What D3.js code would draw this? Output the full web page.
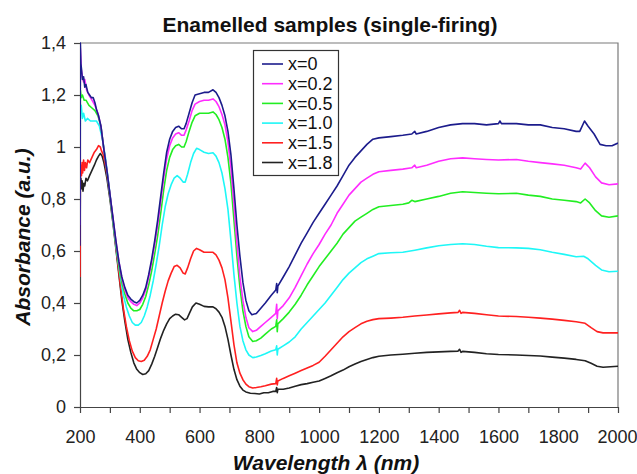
<!DOCTYPE html>
<html>
<head>
<meta charset="utf-8">
<script src="https://cdn.jsdelivr.net/npm/d3@7"></script>
<style>
  html, body { margin: 0; padding: 0; background: #fff; }
  svg { display: block; font-family: "Liberation Sans", Arial, sans-serif; }
</style>
</head>
<body>
<div id="chart"></div>
<script>
// series: [wavelength nm, absorbance]
var s_x00 = [[200,0.62],[201,1.40],[203,1.32],[205,1.30],[208,1.26],[212,1.27],[216,1.23],[220,1.24],[226,1.21],[232,1.20],[238,1.19],[244,1.19],[250,1.17],[256,1.14],[262,1.12],[270,1.08],[280,0.99],[290,0.91],[300,0.82],[310,0.73],[320,0.64],[330,0.56],[340,0.50],[350,0.46],[360,0.43],[370,0.415],[380,0.405],[390,0.40],[400,0.41],[410,0.43],[420,0.46],[430,0.51],[440,0.57],[450,0.64],[460,0.72],[470,0.81],[480,0.90],[490,0.98],[500,1.03],[510,1.06],[520,1.075],[530,1.08],[540,1.07],[548,1.07],[555,1.09],[565,1.13],[575,1.17],[585,1.20],[600,1.205],[615,1.21],[630,1.21],[645,1.22],[655,1.21],[665,1.19],[675,1.16],[685,1.12],[695,1.06],[705,0.97],[715,0.84],[725,0.70],[735,0.58],[745,0.48],[755,0.41],[765,0.37],[775,0.355],[790,0.36],[805,0.38],[820,0.40],[840,0.43],[855,0.45],[858,0.475],[860,0.44],[862,0.465],[880,0.50],[900,0.54],[920,0.585],[940,0.63],[960,0.67],[980,0.71],[1000,0.745],[1020,0.78],[1040,0.815],[1060,0.85],[1080,0.89],[1100,0.93],[1120,0.96],[1140,0.985],[1160,1.01],[1180,1.03],[1200,1.035],[1240,1.04],[1280,1.045],[1310,1.05],[1320,1.06],[1325,1.05],[1360,1.06],[1400,1.075],[1440,1.085],[1480,1.09],[1520,1.09],[1560,1.085],[1600,1.09],[1605,1.10],[1610,1.09],[1660,1.09],[1700,1.085],[1740,1.085],[1780,1.075],[1820,1.07],[1860,1.06],[1872,1.06],[1888,1.10],[1900,1.08],[1920,1.05],[1940,1.01],[1960,1.005],[1980,1.005],[2000,1.015]];

var s_x02 = [[200,0.70],[201,1.38],[204,1.30],[208,1.27],[212,1.25],[216,1.26],[222,1.22],[230,1.20],[240,1.18],[250,1.16],[260,1.13],[270,1.08],[280,0.99],[290,0.91],[300,0.82],[310,0.73],[320,0.64],[330,0.56],[340,0.495],[350,0.45],[360,0.42],[370,0.405],[380,0.395],[390,0.39],[400,0.40],[410,0.42],[420,0.45],[430,0.50],[440,0.56],[450,0.625],[460,0.70],[470,0.79],[480,0.88],[490,0.955],[500,1.005],[510,1.035],[520,1.05],[530,1.055],[540,1.045],[548,1.045],[555,1.065],[565,1.10],[575,1.14],[585,1.165],[600,1.175],[615,1.18],[630,1.18],[645,1.185],[655,1.175],[665,1.155],[675,1.125],[685,1.085],[695,1.02],[705,0.92],[715,0.78],[725,0.63],[735,0.50],[745,0.41],[755,0.345],[765,0.305],[778,0.29],[790,0.295],[805,0.31],[820,0.325],[840,0.345],[855,0.36],[858,0.395],[860,0.34],[862,0.37],[880,0.39],[900,0.42],[920,0.46],[940,0.505],[960,0.55],[980,0.59],[1000,0.625],[1020,0.665],[1040,0.70],[1060,0.745],[1080,0.78],[1100,0.815],[1120,0.84],[1140,0.865],[1160,0.88],[1180,0.895],[1200,0.905],[1240,0.91],[1280,0.915],[1310,0.92],[1320,0.93],[1325,0.92],[1360,0.93],[1400,0.945],[1440,0.955],[1480,0.958],[1520,0.955],[1560,0.952],[1600,0.95],[1660,0.952],[1700,0.945],[1740,0.94],[1780,0.935],[1820,0.93],[1860,0.92],[1875,0.915],[1890,0.938],[1905,0.92],[1925,0.885],[1945,0.862],[1970,0.855],[2000,0.858]];

var s_x05 = [[200,0.72],[201,1.22],[204,1.19],[208,1.20],[214,1.18],[220,1.18],[230,1.16],[240,1.15],[250,1.14],[260,1.12],[270,1.08],[280,0.99],[290,0.905],[300,0.815],[310,0.72],[320,0.63],[330,0.545],[340,0.48],[350,0.435],[360,0.40],[370,0.38],[380,0.37],[390,0.37],[400,0.375],[410,0.395],[420,0.425],[430,0.47],[440,0.525],[450,0.59],[460,0.66],[470,0.745],[480,0.835],[490,0.91],[500,0.96],[510,0.99],[520,1.005],[530,1.01],[540,1.0],[548,1.0],[555,1.02],[565,1.06],[575,1.095],[585,1.12],[600,1.13],[615,1.13],[630,1.13],[645,1.135],[655,1.125],[665,1.105],[675,1.075],[685,1.03],[695,0.96],[705,0.86],[715,0.72],[725,0.58],[735,0.46],[745,0.37],[755,0.31],[765,0.27],[778,0.252],[790,0.255],[805,0.265],[820,0.28],[840,0.30],[855,0.31],[858,0.335],[860,0.29],[862,0.32],[880,0.34],[900,0.365],[920,0.395],[940,0.43],[960,0.47],[980,0.505],[1000,0.54],[1020,0.57],[1040,0.60],[1060,0.63],[1080,0.665],[1100,0.69],[1120,0.715],[1140,0.73],[1160,0.745],[1180,0.76],[1200,0.77],[1240,0.775],[1280,0.78],[1300,0.785],[1310,0.795],[1320,0.79],[1360,0.80],[1400,0.81],[1440,0.822],[1480,0.828],[1520,0.825],[1560,0.822],[1600,0.82],[1660,0.822],[1700,0.815],[1740,0.81],[1780,0.80],[1820,0.795],[1860,0.79],[1875,0.785],[1890,0.80],[1905,0.785],[1925,0.755],[1945,0.735],[1970,0.73],[2000,0.735]];

var s_x10 = [[200,0.78],[201,1.13],[204,1.16],[208,1.11],[212,1.13],[218,1.10],[225,1.11],[235,1.10],[245,1.10],[255,1.10],[265,1.08],[275,1.03],[285,0.96],[295,0.87],[305,0.77],[315,0.67],[325,0.58],[335,0.50],[345,0.43],[355,0.385],[365,0.35],[375,0.325],[385,0.315],[395,0.315],[405,0.325],[415,0.35],[425,0.385],[435,0.43],[445,0.485],[455,0.55],[465,0.62],[475,0.70],[485,0.77],[495,0.82],[505,0.855],[515,0.88],[525,0.89],[535,0.88],[545,0.865],[552,0.865],[560,0.895],[570,0.94],[580,0.975],[590,0.995],[600,0.99],[615,0.98],[630,0.975],[645,0.978],[655,0.965],[665,0.94],[675,0.90],[685,0.84],[695,0.76],[705,0.64],[715,0.51],[725,0.40],[735,0.31],[745,0.255],[755,0.22],[765,0.20],[778,0.19],[790,0.192],[805,0.198],[820,0.205],[840,0.215],[855,0.22],[858,0.235],[860,0.20],[862,0.222],[880,0.235],[900,0.25],[920,0.27],[940,0.30],[960,0.325],[980,0.35],[1000,0.375],[1020,0.40],[1040,0.43],[1060,0.46],[1080,0.49],[1100,0.515],[1120,0.535],[1140,0.555],[1160,0.57],[1180,0.58],[1200,0.59],[1240,0.593],[1280,0.595],[1320,0.603],[1360,0.612],[1400,0.62],[1440,0.625],[1480,0.628],[1520,0.625],[1560,0.618],[1600,0.613],[1660,0.612],[1700,0.61],[1740,0.605],[1780,0.595],[1820,0.587],[1860,0.578],[1885,0.58],[1900,0.57],[1925,0.545],[1945,0.527],[1970,0.52],[2000,0.522]];

var s_x15 = [[200,0.50],[201,0.88],[203,0.93],[205,0.89],[207,0.94],[209,0.90],[212,0.95],[215,0.91],[218,0.94],[222,0.92],[226,0.95],[232,0.94],[240,0.96],[248,0.98],[255,0.99],[262,1.005],[268,1.0],[272,0.985],[278,0.97],[285,0.93],[295,0.86],[305,0.77],[315,0.67],[325,0.57],[335,0.47],[345,0.38],[355,0.31],[365,0.255],[375,0.215],[385,0.19],[395,0.178],[405,0.175],[415,0.18],[425,0.195],[435,0.22],[445,0.26],[455,0.30],[465,0.35],[475,0.40],[485,0.445],[495,0.485],[505,0.515],[515,0.54],[525,0.545],[535,0.535],[545,0.515],[552,0.512],[560,0.535],[570,0.57],[580,0.60],[590,0.61],[600,0.605],[615,0.595],[630,0.595],[645,0.595],[655,0.585],[665,0.565],[675,0.535],[685,0.49],[695,0.42],[705,0.33],[715,0.24],[725,0.17],[735,0.13],[745,0.105],[755,0.088],[765,0.078],[778,0.073],[790,0.075],[805,0.078],[820,0.082],[840,0.088],[855,0.09],[858,0.11],[860,0.085],[862,0.1],[880,0.11],[900,0.12],[920,0.13],[940,0.14],[960,0.15],[980,0.16],[1000,0.172],[1020,0.195],[1040,0.22],[1060,0.245],[1080,0.27],[1100,0.29],[1120,0.305],[1140,0.32],[1160,0.33],[1180,0.336],[1200,0.34],[1240,0.342],[1280,0.345],[1320,0.35],[1360,0.354],[1400,0.358],[1440,0.362],[1465,0.364],[1470,0.372],[1475,0.36],[1480,0.364],[1520,0.36],[1560,0.355],[1600,0.35],[1660,0.348],[1700,0.345],[1740,0.342],[1780,0.338],[1820,0.333],[1860,0.328],[1890,0.322],[1910,0.305],[1930,0.29],[1950,0.285],[2000,0.285]];

var s_x18 = [[200,0.50],[201,0.86],[203,0.88],[205,0.84],[207,0.87],[210,0.83],[213,0.86],[216,0.85],[220,0.88],[225,0.87],[232,0.89],[240,0.91],[248,0.93],[255,0.95],[262,0.965],[268,0.975],[274,0.965],[280,0.94],[290,0.88],[300,0.80],[310,0.71],[320,0.61],[330,0.51],[340,0.41],[350,0.33],[360,0.26],[370,0.21],[380,0.17],[390,0.145],[400,0.132],[410,0.125],[420,0.128],[430,0.14],[440,0.165],[450,0.195],[460,0.23],[470,0.265],[480,0.295],[490,0.32],[500,0.34],[510,0.35],[520,0.357],[530,0.355],[540,0.345],[550,0.335],[558,0.34],[566,0.36],[576,0.385],[588,0.40],[600,0.395],[615,0.387],[630,0.385],[645,0.385],[655,0.378],[665,0.365],[675,0.345],[685,0.31],[695,0.26],[705,0.20],[715,0.145],[725,0.105],[735,0.08],[745,0.065],[755,0.058],[770,0.053],[785,0.052],[800,0.05],[815,0.055],[830,0.055],[845,0.06],[855,0.06],[858,0.075],[860,0.055],[862,0.068],[880,0.068],[900,0.073],[920,0.08],[940,0.086],[960,0.09],[980,0.095],[1000,0.1],[1020,0.11],[1040,0.12],[1060,0.132],[1080,0.142],[1100,0.155],[1120,0.165],[1140,0.175],[1160,0.183],[1180,0.19],[1200,0.195],[1240,0.2],[1280,0.203],[1320,0.207],[1360,0.21],[1400,0.212],[1440,0.214],[1465,0.215],[1470,0.222],[1475,0.21],[1480,0.214],[1520,0.21],[1560,0.205],[1600,0.202],[1660,0.2],[1700,0.198],[1740,0.196],[1780,0.192],[1820,0.188],[1860,0.183],[1890,0.178],[1910,0.168],[1930,0.157],[1950,0.153],[1975,0.155],[2000,0.157]];

var seriesData = [s_x00, s_x02, s_x05, s_x10, s_x15, s_x18];
var seriesNames = ["x=0", "x=0.2", "x=0.5", "x=1.0", "x=1.5", "x=1.8"];
var seriesColors = ["#1c1c8c", "#ff2cff", "#22ee22", "#1ef7f7", "#ff2020", "#222222"];

var xTicks = [200, 400, 600, 800, 1000, 1200, 1400, 1600, 1800, 2000];
var xMinorTicks = [300, 500, 700, 900, 1100, 1300, 1500, 1700, 1900];
var yTicks = [0, 0.2, 0.4, 0.6, 0.8, 1.0, 1.2, 1.4];

var W = 637, H = 474;
var margin = { top: 43, right: 19, bottom: 67, left: 80 };

var svg = d3.select("#chart").append("svg")
    .attr("width", W)
    .attr("height", H);

svg.append("rect").attr("width", W).attr("height", H).attr("fill", "#fff");

var x = d3.scaleLinear().domain([200, 2000]).range([margin.left, W - margin.right]);
var y = d3.scaleLinear().domain([0, 1.4]).range([H - margin.bottom, margin.top]);

svg.append("defs").append("clipPath").attr("id", "plotclip")
    .append("rect")
    .attr("x", x(200)).attr("y", y(1.4) - 1)
    .attr("width", x(2000) - x(200)).attr("height", y(0) - y(1.4) + 1);

// frame top + right (gray)
svg.append("path")
    .attr("d", "M" + x(200) + "," + y(1.4) + "H" + x(2000) + "V" + y(0))
    .attr("fill", "none")
    .attr("stroke", "#7a7a7a")
    .attr("stroke-width", 1.2);

var fmtComma = function(d){ return String(+d.toFixed(1)).replace(".", ","); };

// x axis
var xAxis = svg.append("g")
    .attr("transform", "translate(0," + y(0) + ")")
    .call(d3.axisBottom(x).tickValues(xTicks).tickSizeInner(6).tickSizeOuter(0).tickPadding(17).tickFormat(d3.format("d")));
svg.append("g")
    .attr("transform", "translate(0," + y(0) + ")")
    .call(d3.axisBottom(x).tickValues(xMinorTicks).tickSize(6).tickFormat(""))
    .select(".domain").remove();

// y axis
var yAxis = svg.append("g")
    .attr("transform", "translate(" + x(200) + ",0)")
    .call(d3.axisLeft(y).tickValues(yTicks).tickSizeInner(6).tickSizeOuter(0).tickPadding(8).tickFormat(fmtComma));

svg.selectAll(".domain").attr("stroke", "#444").attr("stroke-width", 1.2);
svg.selectAll(".tick line").attr("stroke", "#444").attr("stroke-width", 1.2);
svg.selectAll(".tick text")
    .attr("fill", "#222")
    .style("font-size", "18px")
    .style("font-family", "'Liberation Sans', Arial, sans-serif");

// last label sits against the page edge
xAxis.selectAll(".tick text").filter(function(d){ return d === 2000; })
    .attr("text-anchor", "end")
    .attr("dx", "19");

// curves
var line = d3.line()
    .x(function(d){ return x(d[0]); })
    .y(function(d){ return y(d[1]); });

var plot = svg.append("g").attr("clip-path", "url(#plotclip)");
for (var i = seriesData.length - 1; i >= 0; i--) {
    plot.append("path")
        .datum(seriesData[i])
        .attr("d", line)
        .attr("fill", "none")
        .attr("stroke", seriesColors[i])
        .attr("stroke-width", 1.6)
        .attr("stroke-linejoin", "round");
}

// legend
var legend = svg.append("g");
legend.append("rect")
    .attr("x", 253.5).attr("y", 50.5)
    .attr("width", 85).attr("height", 125)
    .attr("fill", "#fff")
    .attr("stroke", "#333")
    .attr("stroke-width", 1.2);
seriesNames.forEach(function(name, i){
    var cy = 64 + i * 19.7;
    legend.append("line")
        .attr("x1", 262).attr("x2", 283)
        .attr("y1", cy).attr("y2", cy)
        .attr("stroke", seriesColors[i])
        .attr("stroke-width", 1.6);
    legend.append("text")
        .attr("x", 288).attr("y", cy)
        .attr("dy", "0.35em")
        .attr("fill", "#111")
        .style("font-size", "18px")
        .text(name);
});

// titles
svg.append("text")
    .attr("x", 330).attr("y", 32)
    .attr("text-anchor", "middle")
    .style("font-size", "21px")
    .style("font-weight", "bold")
    .attr("fill", "#111")
    .text("Enamelled samples (single-firing)");

svg.append("text")
    .attr("x", 326).attr("y", 470)
    .attr("text-anchor", "middle")
    .style("font-size", "21px")
    .style("font-weight", "bold")
    .style("font-style", "italic")
    .attr("fill", "#111")
    .text("Wavelength \u03bb (nm)");

svg.append("text")
    .attr("transform", "translate(30,237) rotate(-90)")
    .attr("text-anchor", "middle")
    .style("font-size", "21px")
    .style("font-weight", "bold")
    .style("font-style", "italic")
    .attr("fill", "#111")
    .text("Absorbance (a.u.)");
</script>
</body>
</html>
